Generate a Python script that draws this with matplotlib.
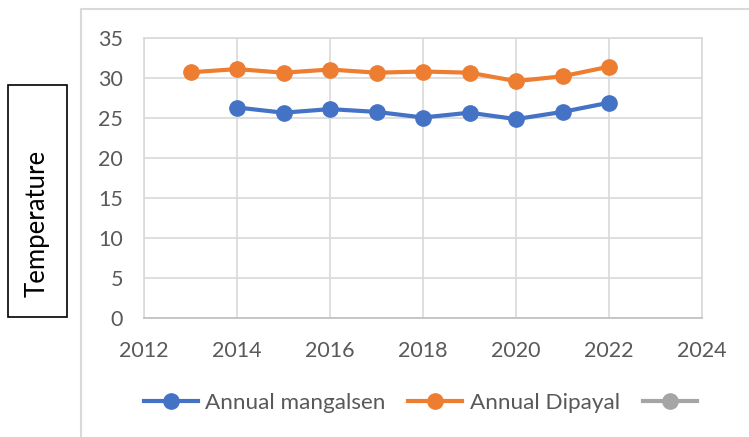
import matplotlib
matplotlib.use("Agg")
import matplotlib.pyplot as plt
from matplotlib.lines import Line2D
from matplotlib.patches import Rectangle

years_mangalsen = [2014, 2015, 2016, 2017, 2018, 2019, 2020, 2021, 2022]
annual_mangalsen = [26.35, 25.7, 26.15, 25.8, 25.1, 25.7, 24.9, 25.8, 26.95]
years_dipayal = [2013, 2014, 2015, 2016, 2017, 2018, 2019, 2020, 2021, 2022]
annual_dipayal = [30.75, 31.15, 30.7, 31.1, 30.7, 30.85, 30.7, 29.65, 30.25, 31.45]
series_labels = ["Annual mangalsen", "Annual Dipayal", " "]
x_ticks = [2012, 2014, 2016, 2018, 2020, 2022, 2024]
y_ticks = [0, 5, 10, 15, 20, 25, 30, 35]

FONT = ["Lato", "DejaVu Sans"]
plt.rcParams['font.family'] = FONT
TXT = "#595959"
GRID = "#d9d9d9"

W, H = 749, 437
fig = plt.figure(figsize=(W / 100, H / 100), dpi=100)

# outer chart border (top and left edges visible)
fig.lines.append(Line2D([80.7 / W, 80.7 / W, 1.0], [0, 1 - 9 / H, 1 - 9 / H],
                        transform=fig.transFigure, color=GRID, linewidth=1.5))

ax = fig.add_axes([144 / W, 1 - 318.3 / H, 558 / W, 280 / H])
ms = 11
lw = 3
ax.plot(years_mangalsen, annual_mangalsen, color="#4472C4", marker="o",
        markersize=ms, linewidth=lw, label=series_labels[0], zorder=3)
ax.plot(years_dipayal, annual_dipayal, color="#ED7D31", marker="o",
        markersize=ms, linewidth=lw, label=series_labels[1], zorder=3)
ax.plot([], [], color="#A5A5A5", marker="o", markersize=ms, linewidth=lw,
        label=series_labels[2])

ax.set_xlim(2012, 2024)
ax.set_ylim(0, 35)
ax.set_xticks(x_ticks)
ax.set_yticks(y_ticks)
ax.grid(True, color=GRID, linewidth=1.2)
ax.set_axisbelow(True)
for s in ax.spines.values():
    s.set_color(GRID)
    s.set_linewidth(1.2)
ax.spines['bottom'].set_color("#bfbfbf")
ax.tick_params(length=0, labelsize=15.5, colors=TXT)
ax.tick_params(axis='x', pad=16)
ax.tick_params(axis='y', pad=15)

# y-axis title box
fig.text(37.5 / W, 1 - 223 / H, "Temperature", rotation=90, ha="center",
         va="center", fontsize=18.5, color="black")
fig.patches.append(Rectangle((8 / W, 1 - 317 / H), 59 / W, 232 / H,
                             transform=fig.transFigure, fill=False,
                             edgecolor="black", linewidth=1.2))

leg = fig.legend(loc="center", bbox_to_anchor=(427 / W, 1 - 403 / H), ncol=3,
                 frameon=False, fontsize=16.2, handlelength=2.4,
                 columnspacing=1.0, handletextpad=0.35, labelcolor=TXT)

fig.savefig("out.png", dpi=100)
